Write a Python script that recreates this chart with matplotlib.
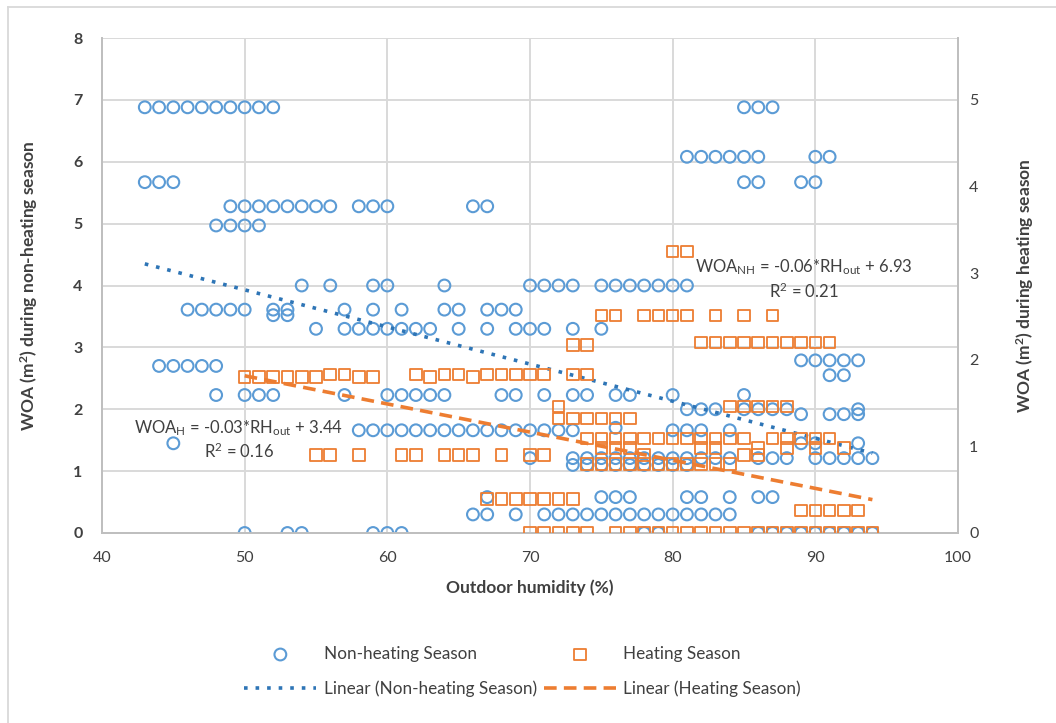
import matplotlib
matplotlib.use("Agg")
import matplotlib.pyplot as plt
from matplotlib.lines import Line2D
import numpy as np

plt.rcParams['font.family'] = ['Lato', 'DejaVu Sans']
plt.rcParams['mathtext.fontset'] = 'custom'
plt.rcParams['mathtext.rm'] = 'Lato'
plt.rcParams['mathtext.it'] = 'Lato:italic'
plt.rcParams['mathtext.bf'] = 'Lato:bold'

# ---- Data ----
# Non-heating season: rows of (WOA value, outdoor humidity values), left axis
nh_rows = [
    (6.88, [43, 44, 45, 46, 47, 48, 49, 50, 51, 52, 85, 86, 87]),
    (6.08, [81, 82, 83, 84, 85, 86, 90, 91]),
    (5.67, [43, 44, 45, 85, 86, 89, 90]),
    (5.28, [49, 50, 51, 52, 53, 54, 55, 56, 58, 59, 60, 66, 67]),
    (4.97, [48, 49, 50, 51]),
    (4.00, [54, 56, 59, 60, 64, 70, 71, 72, 73, 75, 76, 77, 78, 79, 80, 81]),
    (3.61, [46, 47, 48, 49, 50, 52, 53, 57, 59, 61, 64, 65, 67, 68, 69]),
    (3.52, [52, 53]),
    (3.30, [55, 57, 58, 59, 60, 61, 62, 63, 65, 67, 69, 70, 71, 73, 75]),
    (2.79, [89, 90, 91, 92, 93]),
    (2.70, [44, 45, 46, 47, 48]),
    (2.55, [91, 92]),
    (2.23, [48, 50, 51, 52, 57, 60, 61, 62, 63, 64, 68, 69, 71, 73, 74,
             76, 77, 80, 85]),
    (2.00, [81, 82, 83, 85, 86, 87, 88, 93]),
    (1.92, [89, 91, 92, 93]),
    (1.70, [76]),
    (1.66, [58, 59, 60, 61, 62, 63, 64, 65, 66, 67, 68, 69, 70, 71, 72, 73,
             80, 81, 82, 84]),
    (1.45, [45, 89, 90, 93]),
    (1.21, [70, 73, 74, 75, 76, 77, 78, 79, 80, 81, 82, 83, 84, 86, 87, 88,
             90, 91, 92, 93, 94]),
    (1.10, [73, 74, 75, 76, 77, 78, 79, 80, 81]),
    (0.58, [67, 75, 76, 77, 81, 82, 84, 86, 87]),
    (0.30, [66, 67, 69, 71, 72, 73, 74, 75, 76, 77, 78, 79, 80, 81, 82, 83, 84]),
    (0.00, [50, 53, 54, 59, 60, 61, 78, 79, 86, 87, 88, 89, 90, 91, 92, 93, 94]),
]

# Heating season: rows of (WOA value, outdoor humidity values), right axis
h_rows = [
    (3.25, [80, 81]),
    (2.51, [75, 76, 78, 79, 80, 81, 83, 85, 87]),
    (2.20, [82, 83, 84, 85, 86, 87, 88, 89, 90, 91]),
    (2.17, [73, 74]),
    (1.83, [56, 57, 62, 64, 65, 67, 68, 69, 70, 71, 73, 74]),
    (1.80, [50, 51, 52, 53, 54, 55, 58, 59, 63, 66]),
    (1.46, [72, 84, 85, 86, 87, 88]),
    (1.32, [72, 73, 74, 75, 76, 77]),
    (1.09, [74, 75, 76, 77, 78, 79, 80, 81, 82, 83, 84, 85, 87, 88, 89, 90, 91]),
    (0.98, [75, 76, 77, 82, 83, 86, 88, 90, 92]),
    (0.90, [55, 56, 58, 61, 62, 64, 65, 66, 68, 70, 71, 78, 85, 86]),
    (0.80, [74, 75, 76, 77, 78, 79, 80, 81, 82, 83, 84]),
    (0.39, [67, 68, 69, 70, 71, 72, 73]),
    (0.26, [89, 90, 91, 92, 93]),
    (0.00, [70, 71, 72, 73, 74, 76, 77, 78, 79, 80, 81, 82, 83, 84, 85, 86,
             87, 88, 89, 90, 91, 92, 93, 94]),
]

# Linear trend lines: (slope, intercept, x range)
nh_fit = (-0.06, 6.93, [43, 94])
h_fit = (-0.0325, 3.44, [50, 94])

nh_label = 'WOA$_{\\mathrm{NH}}$ = -0.06*RH$_{\\mathrm{out}}$ + 6.93\nR$^{2}$ = 0.21'
h_label = 'WOA$_{\\mathrm{H}}$ = -0.03*RH$_{\\mathrm{out}}$ + 3.44\nR$^{2}$ = 0.16'

x_ticks = [40, 50, 60, 70, 80, 90, 100]
left_ticks = [0, 1, 2, 3, 4, 5, 6, 7, 8]
right_ticks = [0, 1, 2, 3, 4, 5]

nh_x = np.concatenate([xs for _, xs in nh_rows])
nh_y = np.concatenate([[v] * len(xs) for v, xs in nh_rows])
h_x = np.concatenate([xs for _, xs in h_rows])
h_y = np.concatenate([[v] * len(xs) for v, xs in h_rows])

# ---- Figure ----
W, H = 1056, 723
fig = plt.figure(figsize=(W / 100, H / 100), dpi=100)
ax = fig.add_axes([102 / W, 1 - 533 / H, (958 - 102) / W, (533 - 38) / H])
ax2 = ax.twinx()

blue = '#5B9BD5'
blue_line = '#2E75B6'
orange = '#ED7D31'
grid = '#D9D9D9'
text_c = '#404040'

ax.set_xlim(40, 100)
ax.set_ylim(0, 8)
ax2.set_ylim(0, 8 * 5 / 7)

ax.set_xticks(x_ticks)
ax.set_yticks(left_ticks)
ax2.set_yticks(right_ticks)
ax.grid(True, color=grid, linewidth=1.4)
ax.set_axisbelow(True)

for a in (ax, ax2):
    for s in a.spines.values():
        s.set_color('#BFBFBF')
        s.set_linewidth(1.3)
    a.spines['top'].set_visible(False)
    a.tick_params(length=0, colors=text_c, labelsize=11.5)
ax.tick_params(axis='x', pad=13)
ax.tick_params(axis='y', pad=14)
ax2.tick_params(axis='y', pad=8)
for lab in ax.get_yticklabels():
    lab.set_fontweight('bold')

sc1 = ax.scatter(nh_x, nh_y, s=72, facecolors='none', edgecolors=blue,
                 linewidths=1.5, zorder=3, label='Non-heating Season')
sc2 = ax2.scatter(h_x, h_y, s=70, marker='s', facecolors='none', edgecolors=orange,
                  linewidths=1.3, zorder=3, label='Heating Season')

xs = np.array(nh_fit[2], dtype=float)
l1, = ax.plot(xs, nh_fit[0] * xs + nh_fit[1], color=blue_line, linestyle=(0, (1, 2.2)),
              linewidth=2.6, zorder=4, label='Linear (Non-heating Season)')
xs2 = np.array(h_fit[2], dtype=float)
l2, = ax2.plot(xs2, h_fit[0] * xs2 + h_fit[1], color=orange, linestyle=(0, (3.5, 2)),
               linewidth=2.6, zorder=4, label='Linear (Heating Season)')

ax.text(89.2, 4.1, nh_label, ha='center', va='center', fontsize=12,
        color=text_c, linespacing=1.25, zorder=5)
ax.text(49.6, 1.51, h_label, ha='center', va='center', fontsize=12,
        color=text_c, linespacing=1.25, zorder=5)

ax.set_xlabel('Outdoor humidity (%)', fontsize=12.5, fontweight='bold',
              color=text_c, labelpad=10)
ax.set_ylabel('WOA (m$^{\\mathbf{2}}$) during non-heating season', fontsize=12.5,
              fontweight='bold', color=text_c, labelpad=24)
ax2.set_ylabel('WOA (m$^{\\mathbf{2}}$) during heating season', fontsize=12.5,
               fontweight='bold', color=text_c, labelpad=26)

fig.legend(handles=[sc1, l1, sc2, l2], loc='center', ncol=2,
           bbox_to_anchor=(0.495, 0.071), frameon=False, fontsize=12.3,
           handlelength=4.2, handletextpad=0.45, columnspacing=0.4,
           labelspacing=1.1, labelcolor=text_c)

# outer chart border (left and top visible)
fig.add_artist(Line2D([8 / W, 8 / W], [0, 1 - 7 / H], color='#D9D9D9',
                      linewidth=1.3, transform=fig.transFigure))
fig.add_artist(Line2D([8 / W, 1], [1 - 7 / H, 1 - 7 / H], color='#D9D9D9',
                      linewidth=1.3, transform=fig.transFigure))

fig.savefig('out.png', dpi=100)
